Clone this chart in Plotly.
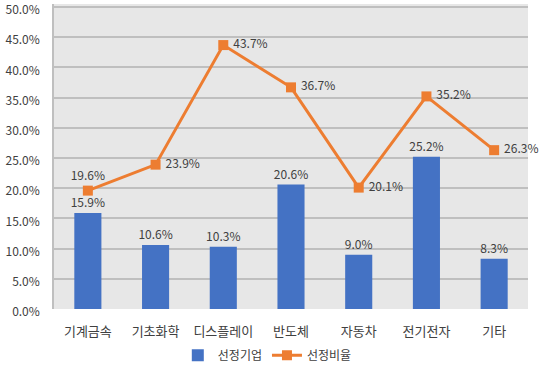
import plotly.graph_objects as go

categories = ["기계금속", "기초화학", "디스플레이", "반도체", "자동차", "전기전자", "기타"]
firms = [15.9, 10.6, 10.3, 20.6, 9.0, 25.2, 8.3]
ratio = [19.6, 23.9, 43.7, 36.7, 20.1, 35.2, 26.3]
y_ticks = [0, 5, 10, 15, 20, 25, 30, 35, 40, 45, 50]

font = "Noto Sans CJK KR"
txt = "#404040"

fig = go.Figure()
fig.add_trace(go.Bar(
    x=categories, y=firms, name="선정기업",
    marker=dict(color="#4472c4", line=dict(width=0)),
    width=0.4,
    text=[f"{v:.1f}%" for v in firms], textposition="outside",
    constraintext="none",
    textfont=dict(size=12, color=txt, family=font),
    cliponaxis=False,
))
fig.add_trace(go.Scatter(
    x=categories, y=ratio, name="선정비율", mode="lines+markers+text",
    line=dict(color="#ed7d31", width=3),
    marker=dict(symbol="square", size=10, color="#ed7d31"),
    text=[f"{v:.1f}%" if i == 0 else " " + f"{v:.1f}%" for i, v in enumerate(ratio)],
    textposition=["top center"] + ["middle right"] * 6,
    textfont=dict(size=12, color=txt, family=font),
    cliponaxis=False,
))

fig.update_layout(
    width=540, height=372,
    margin=dict(l=54, r=12, t=4, b=63, autoexpand=False),
    paper_bgcolor="white", plot_bgcolor="#e7e7e7",
    font=dict(family=font, color=txt, size=12),
    bargap=0.6,
    showlegend=True,
    legend=dict(orientation="h", x=0.45, xanchor="center", y=-0.152, yanchor="middle",
                font=dict(size=12, color=txt, family=font), traceorder="normal"),
    xaxis=dict(showgrid=False, showline=False, ticks="", automargin=False,
               ticklabelstandoff=13,
               tickfont=dict(size=13, color=txt, family=font)),
    yaxis=dict(range=[0, 50.5], tickvals=y_ticks, automargin=False,
               ticktext=[f"{v:.1f}%" for v in y_ticks],
               ticklabeloverflow="allow", ticklabelshift=3,
               gridcolor="#bfbfbf", gridwidth=1.5, showline=True, linecolor="#bfbfbf",
               linewidth=1.5, zeroline=False, ticks="", ticklabelstandoff=10,
               tickfont=dict(size=12, color=txt, family=font)),
)
fig.write_html("out.html", config={"displayModeBar": False},
               post_script="document.body.style.margin='0';")
